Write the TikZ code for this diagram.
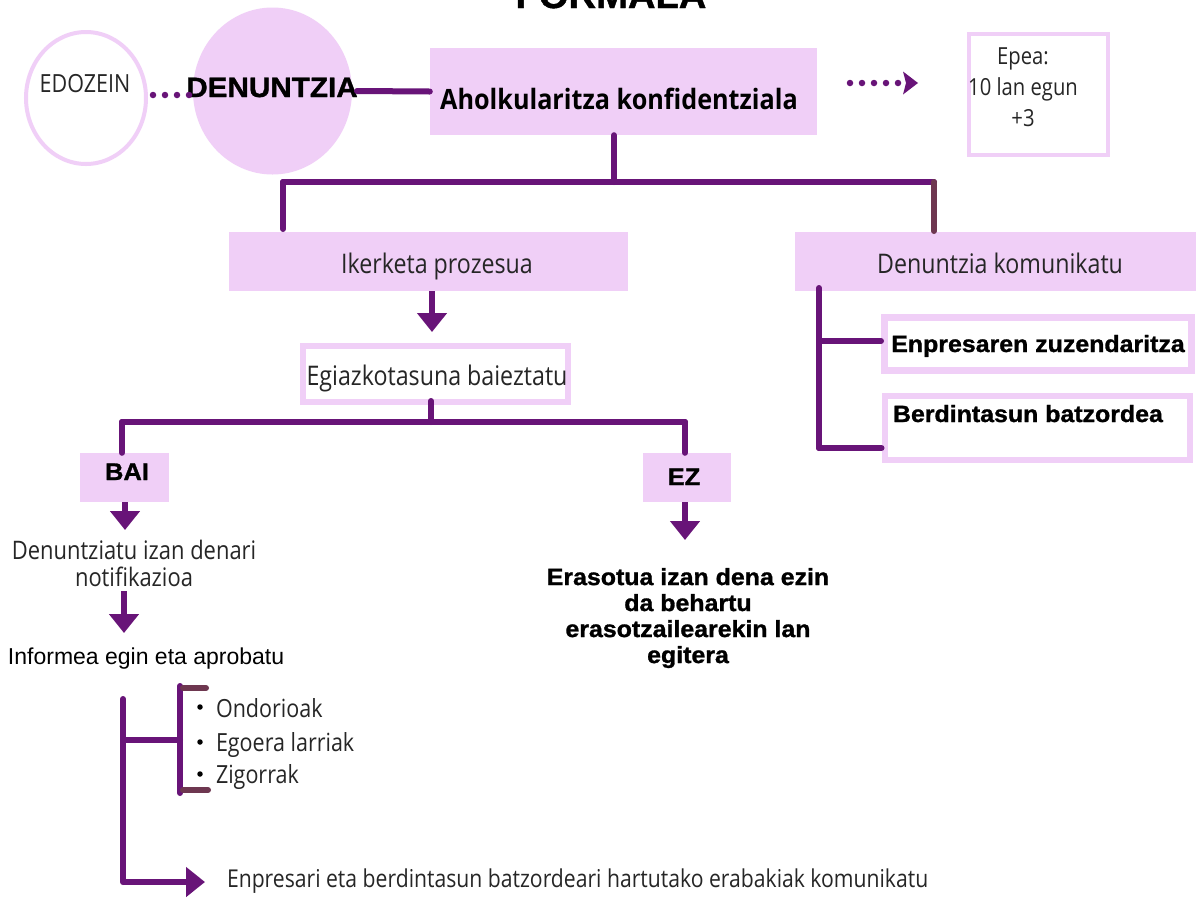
\documentclass[tikz,border=0pt]{standalone}
\usepackage{fontspec}
\setmainfont{Open Sans}[FakeStretch=0.86]
\newfontfamily\condbold{Open Sans}[FakeStretch=0.9]
\newfontfamily\blk{Liberation Sans}[FakeStretch=1.06,FakeBold=1.2]
\newfontfamily\arialf{Liberation Sans}
\usetikzlibrary{shapes.geometric,arrows.meta}
\definecolor{pinkc}{HTML}{F0CFF7}
\definecolor{purp}{HTML}{681478}
\definecolor{maroon}{HTML}{6E3750}
\tikzset{
  pinkbox/.style={rectangle, fill=pinkc, draw=none, inner sep=0pt},
  framebox/.style={rectangle, draw=pinkc, fill=white, inner sep=0pt},
  txt/.style={inner sep=0pt, outer sep=0pt, text=black!85},
  conn/.style={draw=purp, line width=6pt, line cap=round},
  connm/.style={draw=maroon, line width=6pt, line cap=round},
  arr/.style={draw=purp, line width=6pt, -{Triangle[width=29pt,length=19pt]}},
  dots/.style={draw=purp, line width=6.5pt, line cap=round, dash pattern=on 0pt off 12pt},
  bullet/.style={circle, fill=black, inner sep=0pt, minimum size=5.5pt},
}
\begin{document}
\begin{tikzpicture}[x=1pt,y=-1pt]
\useasboundingbox (0,0) rectangle (1196,898);
\fill[white] (0,0) rectangle (1196,898);

% title (cut off at the top)
\node[txt, anchor=base, text=black, font=\blk\bfseries\fontsize{36}{40}\selectfont] (title) at (611,8) {FORMALA};

% circles
\node[ellipse, draw=pinkc, fill=white, line width=4pt, minimum width=120pt, minimum height=132pt] (edo) at (86,98) {};
\node[txt, anchor=base, font=\fontsize{25}{28}\selectfont] (edotxt) at (85,92) {EDOZEIN};
\node[ellipse, fill=pinkc, draw=none, minimum width=159pt, minimum height=167pt] (den) at (272.5,91) {};
\node[txt, anchor=base, text=black, font=\blk\bfseries\fontsize{28}{32}\selectfont] (dentxt) at (272,97) {DENUNTZIA};

% dotted link
\coordinate (d1) at (153,95);
\coordinate (d2) at (190,95);
\draw[dots] (d1) -- (d2);

% Aholkularitza
\node[pinkbox, minimum width=387pt, minimum height=87pt] (ahol) at (623.5,91.5) {};
\node[txt, anchor=base, text=black, font=\condbold\bfseries\fontsize{28}{32}\selectfont] (aholtxt) at (619,109) {Aholkularitza konfidentziala};

% Epea box
\node[framebox, line width=4pt, minimum width=139pt, minimum height=121pt] (epea) at (1038.5,94.5) {};
\node[txt, anchor=north, align=center, font=\fontsize{23.5}{31}\selectfont] (epeatxt) at (1023,47.5) {Epea:\\10 lan egun\\+3};

% dotted arrow
\coordinate (e1) at (850,83);
\coordinate (e2) at (899,83);
\draw[dots] (e1) -- (e2);
\coordinate (eh) at (918,83);
\fill[purp] (903,71.5) -- (eh) -- (903,94.5) -- (906,83) -- cycle;

% second level boxes
\node[pinkbox, minimum width=399pt, minimum height=59pt] (iker) at (428.5,261.5) {};
\node[txt, anchor=base, font=\fontsize{27}{30}\selectfont] (ikertxt) at (437,273) {Ikerketa prozesua};
\node[pinkbox, minimum width=405pt, minimum height=59pt] (kom) at (997.5,261.5) {};
\node[txt, anchor=base, font=\fontsize{27}{30}\selectfont] (komtxt) at (1000,273) {Denuntzia komunikatu};

% Egiazkotasuna
\node[framebox, line width=6pt, minimum width=265pt, minimum height=56pt] (egi) at (435.5,374) {};
\node[txt, anchor=base, font=\fontsize{27}{30}\selectfont] (egitxt) at (437,385) {Egiazkotasuna baieztatu};

% BAI / EZ
\node[pinkbox, minimum width=89pt, minimum height=49pt] (bai) at (124.5,477.5) {};
\node[txt, anchor=base, text=black, font=\blk\bfseries\fontsize{24}{28}\selectfont] (baitxt) at (127,480) {BAI};
\node[pinkbox, minimum width=88pt, minimum height=49pt] (ez) at (687,477.5) {};
\node[txt, anchor=base, text=black, font=\blk\bfseries\fontsize{24}{28}\selectfont] (eztxt) at (684,485) {EZ};

% right column boxes
\node[framebox, line width=7pt, minimum width=307pt, minimum height=53pt] (enp) at (1038,344) {};
\node[txt, anchor=base, text=black, font=\blk\bfseries\fontsize{23.5}{28}\selectfont] (enptxt) at (1038,352) {Enpresaren zuzendaritza};
\node[framebox, line width=6pt, minimum width=305pt, minimum height=64pt] (ber) at (1037,427.5) {};
\node[txt, anchor=base west, text=black, font=\blk\bfseries\fontsize{23.5}{28}\selectfont] (bertxt) at (893,422) {Berdintasun batzordea};

% texts
\node[txt, anchor=north, align=center, font=\fontsize{25.5}{27}\selectfont] (notif) at (134,540) {Denuntziatu izan denari\\notifikazioa};
\node[txt, anchor=base west, text=black, font=\arialf\fontsize{23}{27}\selectfont] (inf) at (8,664) {Informea egin eta aprobatu};
\node[txt, anchor=north, align=center, text=black, font=\blk\bfseries\fontsize{23.5}{26}\selectfont] (eras) at (688,568) {Erasotua izan dena ezin\\da behartu\\erasotzailearekin lan\\egitera};

\node[bullet] (b1) at (200,707) {};
\node[bullet] (b2) at (200,742) {};
\node[bullet] (b3) at (200,774) {};
\node[txt, anchor=base west, font=\fontsize{25}{28}\selectfont] (ond) at (216,717) {Ondorioak};
\node[txt, anchor=base west, font=\fontsize{25}{28}\selectfont] (ego) at (216,751) {Egoera larriak};
\node[txt, anchor=base west, font=\fontsize{25}{28}\selectfont] (zig) at (216,783) {Zigorrak};
\node[txt, anchor=base west, font=\fontsize{24.6}{28}\selectfont] (enpri) at (227,887) {Enpresari eta berdintasun batzordeari hartutako erabakiak komunikatu};

% connectors
\coordinate (denR) at (357,91);
\draw[conn] (denR) -- (ahol.west);
\coordinate (j0) at (614,182);
\coordinate (jL) at (283,182);
\coordinate (jR) at (934,182);
\draw[conn] (ahol.south -| j0) -- (j0);
\draw[conn] (jL) -- (jR);
\coordinate (jLb) at (283,229);
\draw[conn] (jL) -- (jLb);
\coordinate (jRb) at (934,231);
\draw[connm] (jR) -- (jRb);

\coordinate (a1) at (432,332);
\draw[arr] (iker.south -| a1) -- (a1);

\coordinate (j2) at (431,422);
\coordinate (j2t) at (431,401);
\draw[conn] (j2t) -- (j2);
\coordinate (jBL) at (122,422);
\coordinate (jBR) at (685,422);
\draw[conn] (jBL) -- (jBR);
\draw[conn] (jBL) -- (jBL |- bai.north);
\draw[conn] (jBR) -- (jBR |- ez.north);

\coordinate (a2) at (125,530);
\draw[arr] (bai.south -| a2) -- (a2);
\coordinate (a3t) at (124,591);
\coordinate (a3) at (124,633);
\draw[arr] (a3t) -- (a3);
\coordinate (a4) at (685,540);
\draw[arr] (ez.south -| a4) -- (a4);

\coordinate (kt) at (819,288);
\coordinate (kb) at (819,448);
\coordinate (k1) at (819,341);
\draw[conn] (kt) -- (kb);
\draw[conn] (k1) -- (k1 -| enp.west);
\draw[conn] (kb) -- (kb -| ber.west);

\coordinate (bl0) at (123,699);
\coordinate (bl1) at (123,882);
\coordinate (bl2) at (123,740);
\coordinate (bt) at (180,686);
\coordinate (bb) at (180,793);
\coordinate (bm) at (180,740);
\coordinate (a5) at (205,882);
\draw[conn] (bl0) -- (bl1);
\draw[conn] (bl2) -- (bm);
\draw[conn] (bt) -- (bb);
\coordinate (c1) at (183,688);
\coordinate (c2) at (206,688);
\coordinate (c3) at (183,790);
\coordinate (c4) at (208,790);
\draw[connm] (c1) -- (c2);
\draw[connm] (c3) -- (c4);
\draw[arr] (bl1) -- (a5);
\end{tikzpicture}
\end{document}
